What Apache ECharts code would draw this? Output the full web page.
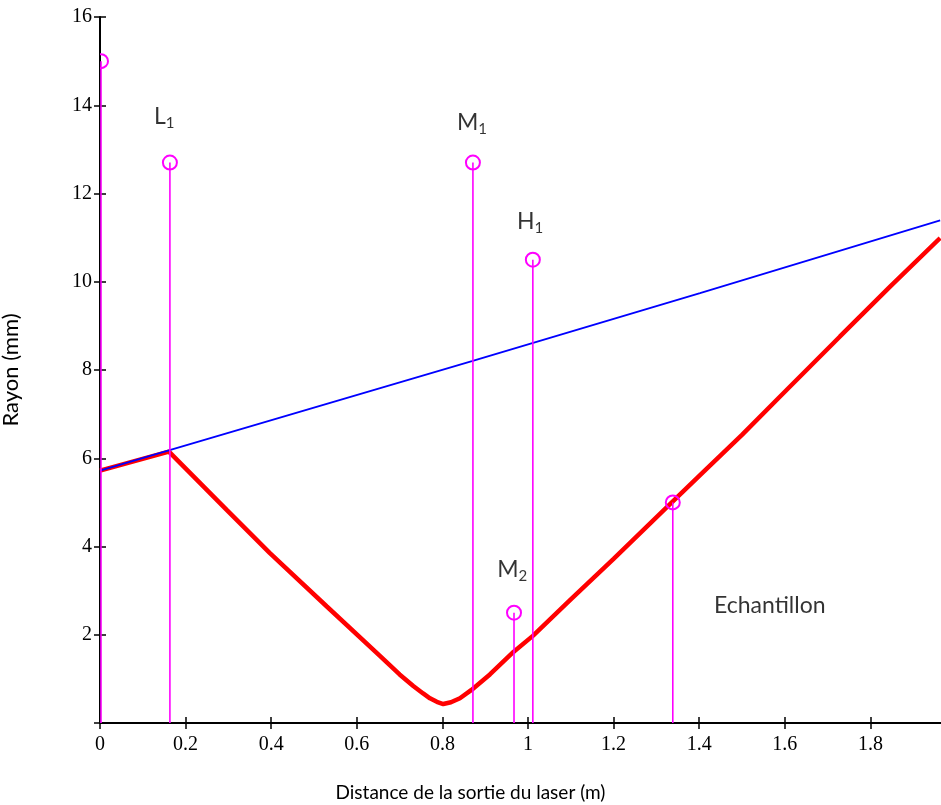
<!DOCTYPE html>
<html>
<head>
<meta charset="utf-8">
<script src="https://cdn.jsdelivr.net/npm/echarts@6/dist/echarts.min.js"></script>
<style>
    html, body { margin: 0; padding: 0; background: #fff; }
    #chart { width: 941px; height: 805px; }
</style>
</head>
<body>
<div id="chart"></div>
<script>
// faisceau laser sans lentille (bleu)
var bluePoints = [[0, 5.72], [0.869, 8.2], [1.402, 9.74], [1.963, 11.39]];
// faisceau avec lentille L1 (rouge)
var redPoints = [[0, 5.72], [0.161, 6.15], [0.296, 4.83], [0.397, 3.85], [0.53, 2.64],
    [0.654, 1.52], [0.7, 1.1], [0.732, 0.84], [0.755, 0.67], [0.771, 0.56], [0.787, 0.48],
    [0.802, 0.43], [0.82, 0.47], [0.841, 0.56], [0.868, 0.75], [0.911, 1.1], [0.966, 1.61],
    [1.012, 1.98], [1.1, 2.8], [1.2, 3.72], [1.336, 5.0], [1.402, 5.62], [1.5, 6.53],
    [1.589, 7.4], [1.729, 8.76], [1.846, 9.89], [1.963, 10.99]];
// positions des éléments (m) et hauteur des repères (mm)
var stemX = [0, 0.161, 0.869, 1.009, 0.965, 1.336];
var stemH = [15, 12.7, 12.7, 10.5, 2.5, 5.0];
// étiquettes
var labelNames = ['L', 'M', 'H', 'M', 'Echantillon'];
var labelSubs = ['1', '1', '1', '2', ''];
var labelX = [0.15, 0.869, 1.005, 0.963, 1.565];
var labelY = [13.74, 13.6, 11.36, 3.47, 2.65];
var xTicks = [0, 0.2, 0.4, 0.6, 0.8, 1, 1.2, 1.4, 1.6, 1.8];
var yTicks = [0, 2, 4, 6, 8, 10, 12, 14, 16];
var yLabels = [2, 4, 6, 8, 10, 12, 14, 16];

var chart = echarts.init(document.getElementById('chart'));

var stemData = stemX.map(function (x, i) { return [x, stemH[i]]; });
var labelData = labelX.map(function (x, i) {
    return { value: [x, labelY[i]], name: labelNames[i], sub: labelSubs[i] };
});

var tickFont = { fontFamily: 'Liberation Serif', fontSize: 20, color: '#000' };
var sansFont = 'Lato';

option = {
    animation: false,
    backgroundColor: '#fff',
    grid: { left: 100, right: 0, top: 17, bottom: 82, outerBoundsMode: 'none', containLabel: false },
    xAxis: [{
        type: 'value', min: 0, max: 1.965,
        name: 'Distance de la sortie du laser (m)',
        nameLocation: 'middle', nameGap: 60,
        nameTextStyle: { fontFamily: sansFont, fontSize: 19, color: '#000', padding: [0, 100, 0, 0] },
        splitLine: { show: false },
        axisLine: { onZero: false, lineStyle: { color: '#000', width: 2 } },
        axisTick: { length: 6, customValues: xTicks, lineStyle: { color: '#000', width: 1.5 } },
        axisLabel: Object.assign({ margin: 12, customValues: xTicks }, tickFont)
    }, {
        type: 'value', min: 0, max: 1.965, position: 'bottom',
        splitLine: { show: false },
        axisLine: { show: false },
        axisTick: { inside: true, length: 6, customValues: xTicks, lineStyle: { color: '#000', width: 1.5 } },
        axisLabel: { show: false }
    }],
    yAxis: [{
        type: 'value', min: 0, max: 16,
        name: 'Rayon (mm)',
        nameLocation: 'middle', nameGap: 78,
        nameTextStyle: { fontFamily: sansFont, fontSize: 22, color: '#000' },
        splitLine: { show: false },
        axisLine: { onZero: false, lineStyle: { color: '#000', width: 2 } },
        axisTick: { length: 6, customValues: yTicks, lineStyle: { color: '#000', width: 1.5 } },
        axisLabel: Object.assign({ margin: 8, customValues: yLabels }, tickFont)
    }, {
        type: 'value', min: 0, max: 16, position: 'left',
        splitLine: { show: false },
        axisLine: { show: false },
        axisTick: { inside: true, length: 6, customValues: yTicks, lineStyle: { color: '#000', width: 1.5 } },
        axisLabel: { show: false }
    }],
    series: [
        {
            name: 'avec lentille',
            type: 'line',
            data: redPoints,
            symbol: 'none',
            lineStyle: { color: '#ff0000', width: 4.5 },
            z: 2
        },
        {
            name: 'sans lentille',
            type: 'line',
            data: bluePoints,
            symbol: 'none',
            lineStyle: { color: '#0000ff', width: 1.8 },
            z: 3
        },
        {
            name: 'éléments',
            type: 'custom',
            clip: true,
            z: 4,
            data: stemData,
            renderItem: function (params, api) {
                var base = api.coord([api.value(0), 0]);
                var top = api.coord([api.value(0), api.value(1)]);
                return {
                    type: 'group',
                    children: [{
                        type: 'line',
                        shape: { x1: base[0] + 1, y1: base[1], x2: top[0] + 1, y2: top[1] },
                        style: { stroke: '#ff00ff', lineWidth: 1.6 }
                    }, {
                        type: 'circle',
                        shape: { cx: top[0] + 1, cy: top[1], r: 7 },
                        style: { fill: null, stroke: '#ff00ff', lineWidth: 2 }
                    }]
                };
            }
        },
        {
            name: 'étiquettes',
            type: 'scatter',
            symbolSize: 0,
            z: 5,
            data: labelData,
            label: {
                show: true,
                position: 'inside',
                formatter: function (p) {
                    return '{a|' + p.data.name + '}' + (p.data.sub ? '{b|' + p.data.sub + '}' : '');
                },
                rich: {
                    a: { fontFamily: sansFont, fontSize: 23, color: '#000', lineHeight: 28 },
                    b: { fontFamily: sansFont, fontSize: 15, color: '#000', lineHeight: 28, verticalAlign: 'bottom', padding: [11, 0, 0, 0] }
                }
            }
        }
    ]
};

chart.setOption(option);
</script>
</body>
</html>
